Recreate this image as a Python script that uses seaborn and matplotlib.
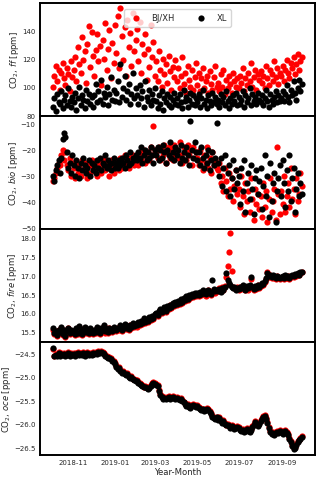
import pandas as pd
import matplotlib.pyplot as plt
import matplotlib.dates as mdates
import seaborn as sns

# sampling dates (every second day, Oct 2018 - Sep 2019)
dates = pd.date_range("2018-10-03", periods=182, freq="2D")

# fossil fuel CO2 [ppm]
ff_bjxh = [100, 108, 115, 104, 112, 98, 110, 117, 106, 101, 113, 109, 97, 118, 107,
           112, 121, 104, 128, 116, 110, 135, 119, 125, 103, 130, 143, 114, 139, 122,
           108, 126, 137, 118, 129, 101, 133, 120, 145, 112, 127, 140, 106, 131, 117, 144,
           124, 150, 113, 156, 136, 119, 142, 108, 147, 128, 138, 115, 152, 125, 133,
           141, 118, 146, 110, 130, 123, 137, 105, 127, 114, 144, 121, 132, 108,
           118, 104, 125, 112, 100, 120, 109, 116, 103, 122, 111, 98, 114, 107, 119,
           104, 113, 99, 108, 121, 102, 110, 96, 115, 105, 100, 112, 98, 107, 117,
           101, 110, 97, 106, 113, 99, 104, 108, 96, 111, 102, 98, 107, 115, 100,
           103, 97, 109, 100, 112, 95, 105, 99, 108, 102, 96, 110, 104, 100, 106,
           99, 108, 103, 113, 97, 106, 101, 110, 104, 117, 100, 107, 112, 98, 109, 105,
           111, 103, 108, 99, 115, 106, 101, 112, 109, 104, 118, 107, 113, 102, 110,
           108, 115, 104, 112, 119, 110, 106, 117, 113, 121, 109, 116, 123, 112, 118, 121]
ff_xl = [86, 92, 83, 95, 89, 88, 97, 85, 91, 94, 87, 99, 90, 86, 93,
         89, 96, 84, 92, 100, 87, 94, 91, 85, 98, 90, 95, 88, 93, 86,
         94, 102, 89, 97, 91, 105, 88, 96, 93, 100, 87, 95, 107, 91, 98, 90,
         96, 104, 89, 116, 93, 99, 108, 91, 97, 102, 88, 95, 110, 92, 99,
         94, 88, 101, 92, 97, 86, 104, 93, 90, 98, 87, 95, 91, 99,
         90, 85, 94, 88, 97, 84, 92, 89, 95, 87, 93, 86, 91, 96, 88,
         92, 87, 95, 89, 85, 98, 90, 93, 86, 91, 96, 88, 94, 87, 92,
         89, 95, 86, 92, 98, 88, 91, 85, 94, 90, 87, 96, 89, 93, 88,
         91, 86, 95, 89, 93, 87, 97, 90, 85, 92, 88, 94, 90, 96, 87,
         93, 88, 91, 97, 86, 94, 89, 92, 99, 87, 95, 90, 93, 88, 96, 91,
         89, 94, 87, 92, 98, 90, 86, 95, 91, 88, 93, 97, 89, 94, 90,
         92, 97, 90, 95, 101, 93, 89, 98, 94, 104, 96, 91, 99, 105, 97, 102]

# biogenic CO2 [ppm]
bio_bjxh = [-32, -31, -29, -27, -25, -26, -22, -20, -24, -21, -26, -28, -23, -30, -25,
            -27, -31, -25, -29, -26, -30, -24, -28, -27, -25, -31, -26, -29, -24, -27,
            -28, -25, -30, -26, -24, -29, -27, -23, -28, -25, -27, -30, -24, -26, -29, -25,
            -26, -24, -28, -23, -27, -25, -22, -26, -24, -27, -23, -25, -22, -26, -24,
            -23, -26, -21, -24, -22, -20, -25, -23, -21, -24, -19, -22, -10.7, -20,
            -21, -23, -19, -24, -20, -22, -18, -25, -21, -19, -23, -20, -24, -18, -22,
            -20, -23, -17, -22, -25, -19, -21, -24, -18, -22, -20, -26, -19, -23, -21,
            -23, -26, -20, -24, -28, -22, -25, -19, -27, -23, -29, -21, -26, -24, -27,
            -28, -25, -33, -30, -36, -27, -32, -38, -29, -35, -31, -40, -34, -28, -37,
            -35, -42, -30, -38, -45, -33, -40, -36, -44, -31, -39, -47, -35, -41, -37, -43,
            -38, -46, -33, -42, -36, -48, -39, -31, -44, -40, -35, -47, -19, -37, -45,
            -36, -41, -30, -44, -38, -33, -42, -27, -39, -35, -45, -31, -40, -37, -29, -34]
bio_xl = [-30, -32, -28, -26, -24, -29, -23, -16, -13.5, -15, -21, -27, -25, -29, -22,
          -26, -30, -24, -27, -31, -25, -28, -23, -26, -29, -27, -24, -30, -25, -28,
          -26, -29, -24, -27, -23, -28, -25, -26, -22, -27, -24, -26, -28, -25, -23, -27,
          -25, -27, -24, -26, -23, -25, -27, -22, -24, -26, -21, -25, -23, -24, -22,
          -24, -21, -23, -19, -25, -22, -20, -24, -21, -23, -19, -22, -25, -20,
          -22, -19, -24, -20, -23, -18, -21, -25, -20, -22, -17, -23, -21, -24, -19,
          -22, -20, -25, -18, -23, -21, -24, -19, -22, -26, -9, -20, -23, -17, -21,
          -24, -21, -26, -19, -23, -27, -22, -25, -20, -28, -24, -21, -26, -23, -9.5,
          -25, -30, -23, -34, -27, -22, -36, -29, -26, -38, -31, -24, -35, -28, -33,
          -30, -41, -27, -36, -24, -44, -33, -29, -39, -26, -35, -45, -31, -28, -37, -32,
          -27, -43, -34, -22, -38, -30, -46, -25, -40, -33, -29, -48, -36, -31, -26,
          -38, -24, -33, -42, -28, -36, -22, -40, -31, -27, -44, -35, -29, -38, -33, -37]

# fire CO2 [ppm]
fire_bjxh = [15.55, 15.42, 15.50, 15.37, 15.53, 15.45, 15.60, 15.41, 15.51, 15.36, 15.47, 15.58, 15.43, 15.52, 15.46,
             15.49, 15.40, 15.56, 15.44, 15.63, 15.47, 15.40, 15.53, 15.59, 15.45, 15.51, 15.42, 15.57, 15.48, 15.44,
             15.52, 15.46, 15.60, 15.49, 15.44, 15.55, 15.51, 15.64, 15.47, 15.55, 15.45, 15.58, 15.51, 15.49, 15.60, 15.53,
             15.50, 15.58, 15.55, 15.64, 15.52, 15.60, 15.67, 15.56, 15.62, 15.54, 15.66, 15.58, 15.71, 15.62, 15.67,
             15.63, 15.72, 15.67, 15.76, 15.69, 15.83, 15.73, 15.79, 15.76, 15.86, 15.80, 15.90, 15.84, 15.94,
             15.97, 15.92, 16.02, 16.07, 15.99, 16.06, 16.12, 16.03, 16.16, 16.09, 16.20, 16.13, 16.23, 16.17, 16.26,
             16.21, 16.30, 16.24, 16.34, 16.27, 16.38, 16.31, 16.42, 16.35, 16.45, 16.39, 16.48, 16.42, 16.51, 16.45,
             16.50, 16.44, 16.54, 16.47, 16.58, 16.51, 16.46, 16.56, 16.60, 16.52, 16.48, 16.57, 16.62, 16.54, 16.59,
             16.60, 16.65, 16.58, 16.68, 16.62, 16.72, 16.95, 17.26, 17.63, 18.13, 17.11, 16.70, 16.66, 16.64, 16.69,
             16.60, 16.68, 16.63, 16.72, 16.65, 16.60, 16.69, 16.62, 16.71, 16.90, 16.66, 16.61, 16.70, 16.64, 16.73, 16.67,
             16.71, 16.78, 16.74, 16.83, 16.90, 17.08, 16.96, 17.00, 16.92, 16.98, 16.94, 16.91, 16.97, 16.93, 16.90,
             16.92, 16.96, 16.90, 16.98, 16.93, 16.97, 16.91, 16.95, 16.99, 16.95, 17.01, 16.97, 17.03, 17.00, 17.06, 17.09]
fire_xl = [15.58, 15.45, 15.52, 15.40, 15.55, 15.48, 15.62, 15.44, 15.53, 15.38, 15.50, 15.60, 15.46, 15.55, 15.49,
           15.52, 15.43, 15.58, 15.47, 15.65, 15.50, 15.42, 15.56, 15.61, 15.48, 15.53, 15.45, 15.59, 15.51, 15.47,
           15.55, 15.49, 15.62, 15.52, 15.46, 15.58, 15.53, 15.66, 15.50, 15.57, 15.48, 15.60, 15.54, 15.51, 15.63, 15.56,
           15.53, 15.60, 15.58, 15.66, 15.55, 15.62, 15.70, 15.59, 15.64, 15.57, 15.68, 15.61, 15.73, 15.65, 15.69,
           15.66, 15.74, 15.70, 15.78, 15.72, 15.85, 15.76, 15.81, 15.79, 15.88, 15.83, 15.92, 15.87, 15.96,
           16.00, 15.95, 16.04, 16.10, 16.02, 16.08, 16.15, 16.06, 16.18, 16.12, 16.22, 16.16, 16.25, 16.20, 16.28,
           16.24, 16.32, 16.27, 16.36, 16.30, 16.40, 16.34, 16.44, 16.38, 16.47, 16.42, 16.50, 16.45, 16.53, 16.48,
           16.52, 16.47, 16.56, 16.50, 16.60, 16.54, 16.49, 16.58, 16.62, 16.55, 16.51, 16.88, 16.64, 16.57, 16.61,
           16.58, 16.63, 16.56, 16.66, 16.60, 16.70, 17.06, 16.88, 16.80, 16.74, 16.68, 16.65, 16.69, 16.62, 16.67,
           16.63, 16.70, 16.66, 16.74, 16.68, 16.62, 16.71, 16.65, 16.73, 16.95, 16.69, 16.64, 16.72, 16.67, 16.75, 16.70,
           16.74, 16.80, 16.77, 16.85, 16.92, 17.06, 16.98, 17.02, 16.95, 17.00, 16.97, 16.94, 16.99, 16.96, 16.93,
           16.95, 16.98, 16.93, 17.00, 16.96, 16.99, 16.94, 16.97, 17.01, 16.98, 17.03, 17.00, 17.05, 17.02, 17.08, 17.10]

# ocean CO2 [ppm]
oce_bjxh = [-24.40, -24.55, -24.51, -24.53, -24.48, -24.54, -24.50, -24.52, -24.49, -24.53, -24.51, -24.48, -24.54, -24.50, -24.52,
            -24.49, -24.53, -24.50, -24.47, -24.52, -24.49, -24.51, -24.48, -24.53, -24.50, -24.47, -24.51, -24.49, -24.52, -24.48,
            -24.50, -24.47, -24.49, -24.46, -24.48, -24.45, -24.47, -24.50, -24.54, -24.56, -24.59, -24.58, -24.61, -24.64, -24.66, -24.70,
            -24.78, -24.82, -24.80, -24.86, -24.91, -24.88, -24.93, -24.95, -24.92, -24.98, -25.01, -24.99, -25.04, -25.06, -25.08,
            -25.07, -25.11, -25.13, -25.16, -25.18, -25.21, -25.20, -25.23, -25.24, -25.22, -25.18, -25.14, -25.12, -25.13,
            -25.15, -25.17, -25.28, -25.38, -25.42, -25.45, -25.43, -25.46, -25.44, -25.42, -25.45, -25.43, -25.41, -25.44, -25.46,
            -25.43, -25.45, -25.48, -25.46, -25.50, -25.53, -25.56, -25.60, -25.58, -25.62, -25.64, -25.61, -25.58, -25.60, -25.63,
            -25.61, -25.64, -25.67, -25.70, -25.68, -25.72, -25.69, -25.66, -25.70, -25.74, -25.78, -25.83, -25.86, -25.88, -25.85,
            -25.90, -25.87, -25.92, -25.96, -25.93, -25.98, -26.02, -26.00, -26.04, -26.07, -26.03, -26.06, -26.10, -26.08, -26.05,
            -26.08, -26.11, -26.14, -26.12, -26.15, -26.13, -26.10, -26.14, -26.16, -26.12, -26.06, -26.00, -25.94, -25.98, -26.03, -25.99,
            -25.93, -25.88, -25.84, -25.82, -25.88, -25.96, -26.08, -26.16, -26.20, -26.18, -26.22, -26.19, -26.16, -26.18, -26.14,
            -26.17, -26.20, -26.16, -26.13, -26.18, -26.23, -26.30, -26.38, -26.46, -26.53, -26.50, -26.44, -26.38, -26.34, -26.30, -26.26]
oce_xl = [-24.38, -24.57, -24.53, -24.55, -24.50, -24.56, -24.52, -24.54, -24.51, -24.55, -24.53, -24.50, -24.56, -24.52, -24.54,
          -24.51, -24.55, -24.52, -24.49, -24.54, -24.51, -24.53, -24.50, -24.55, -24.52, -24.49, -24.53, -24.51, -24.54, -24.50,
          -24.52, -24.49, -24.51, -24.48, -24.50, -24.47, -24.49, -24.52, -24.56, -24.58, -24.61, -24.60, -24.63, -24.66, -24.68, -24.72,
          -24.80, -24.84, -24.82, -24.88, -24.93, -24.90, -24.95, -24.97, -24.94, -25.00, -25.03, -25.01, -25.06, -25.08, -25.10,
          -25.09, -25.13, -25.15, -25.18, -25.20, -25.23, -25.22, -25.25, -25.26, -25.24, -25.20, -25.16, -25.14, -25.15,
          -25.17, -25.19, -25.30, -25.40, -25.44, -25.47, -25.45, -25.48, -25.46, -25.44, -25.47, -25.45, -25.43, -25.46, -25.48,
          -25.45, -25.47, -25.50, -25.48, -25.52, -25.55, -25.58, -25.62, -25.60, -25.64, -25.66, -25.63, -25.60, -25.62, -25.65,
          -25.63, -25.66, -25.69, -25.72, -25.70, -25.74, -25.71, -25.68, -25.72, -25.76, -25.80, -25.85, -25.88, -25.90, -25.87,
          -25.92, -25.89, -25.94, -25.98, -25.95, -26.00, -26.04, -26.02, -26.06, -26.09, -26.05, -26.08, -26.12, -26.10, -26.07,
          -26.10, -26.13, -26.16, -26.14, -26.17, -26.15, -26.12, -26.16, -26.18, -26.14, -26.08, -26.02, -25.96, -26.00, -26.05, -26.01,
          -25.95, -25.90, -25.86, -25.84, -25.90, -25.98, -26.10, -26.18, -26.22, -26.20, -26.24, -26.21, -26.18, -26.20, -26.16,
          -26.19, -26.22, -26.18, -26.15, -26.20, -26.25, -26.32, -26.40, -26.48, -26.55, -26.52, -26.46, -26.40, -26.36, -26.32, -26.28]

panels = [
    (ff_bjxh, ff_xl, r"CO$_2$, $\it{ff}$ [ppm]", (79.5, 159.3), [80, 100, 120, 140]),
    (bio_bjxh, bio_xl, r"CO$_2$, $\it{bio}$ [ppm]", (-50.6, -6.9), [-10, -20, -30, -40, -50]),
    (fire_bjxh, fire_xl, r"CO$_2$, $\it{fire}$ [ppm]", (15.22, 18.24), [15.5, 16.0, 16.5, 17.0, 17.5, 18.0]),
    (oce_bjxh, oce_xl, r"CO$_2$, $\it{oce}$ [ppm]", (-26.67, -24.26), [-24.5, -25.0, -25.5, -26.0, -26.5]),
]

sns.set_style("white")
fig, axes = plt.subplots(4, 1, figsize=(3.2, 4.81), dpi=100, sharex=True)
fig.subplots_adjust(left=0.125, right=0.984, top=0.992, bottom=0.052, hspace=0)

for i, (red, black, ylab, ylim, yticks) in enumerate(panels):
    ax = axes[i]
    sns.scatterplot(x=dates, y=red, color="red", s=20, linewidth=0, ax=ax,
                    label="BJ/XH" if i == 0 else None)
    sns.scatterplot(x=dates, y=black, color="black", s=20, linewidth=0, ax=ax,
                    label="XL" if i == 0 else None)
    ax.set_ylim(*ylim)
    ax.set_yticks(yticks)
    ax.set_ylabel(ylab, fontsize=6.1, labelpad=0.5)
    ax.tick_params(labelsize=5.0, pad=3.2, length=0)
    for sp in ax.spines.values():
        sp.set_color("black")
        sp.set_linewidth(1.4)

axes[0].legend(loc="upper center", ncol=2, fontsize=6, frameon=True,
               handlelength=2.0, handletextpad=0.8, columnspacing=2.2,
               borderpad=0.5, bbox_to_anchor=(0.5, 0.98))

axes[-1].xaxis.set_major_locator(mdates.MonthLocator(bymonth=[1, 3, 5, 7, 9, 11]))
axes[-1].xaxis.set_major_formatter(mdates.DateFormatter("%Y-%m"))
axes[-1].set_xlim(pd.Timestamp("2018-09-14"), pd.Timestamp("2019-10-19"))
axes[-1].set_xlabel("Year-Month", fontsize=6.1, labelpad=1)

plt.savefig("out.png", dpi=100)
